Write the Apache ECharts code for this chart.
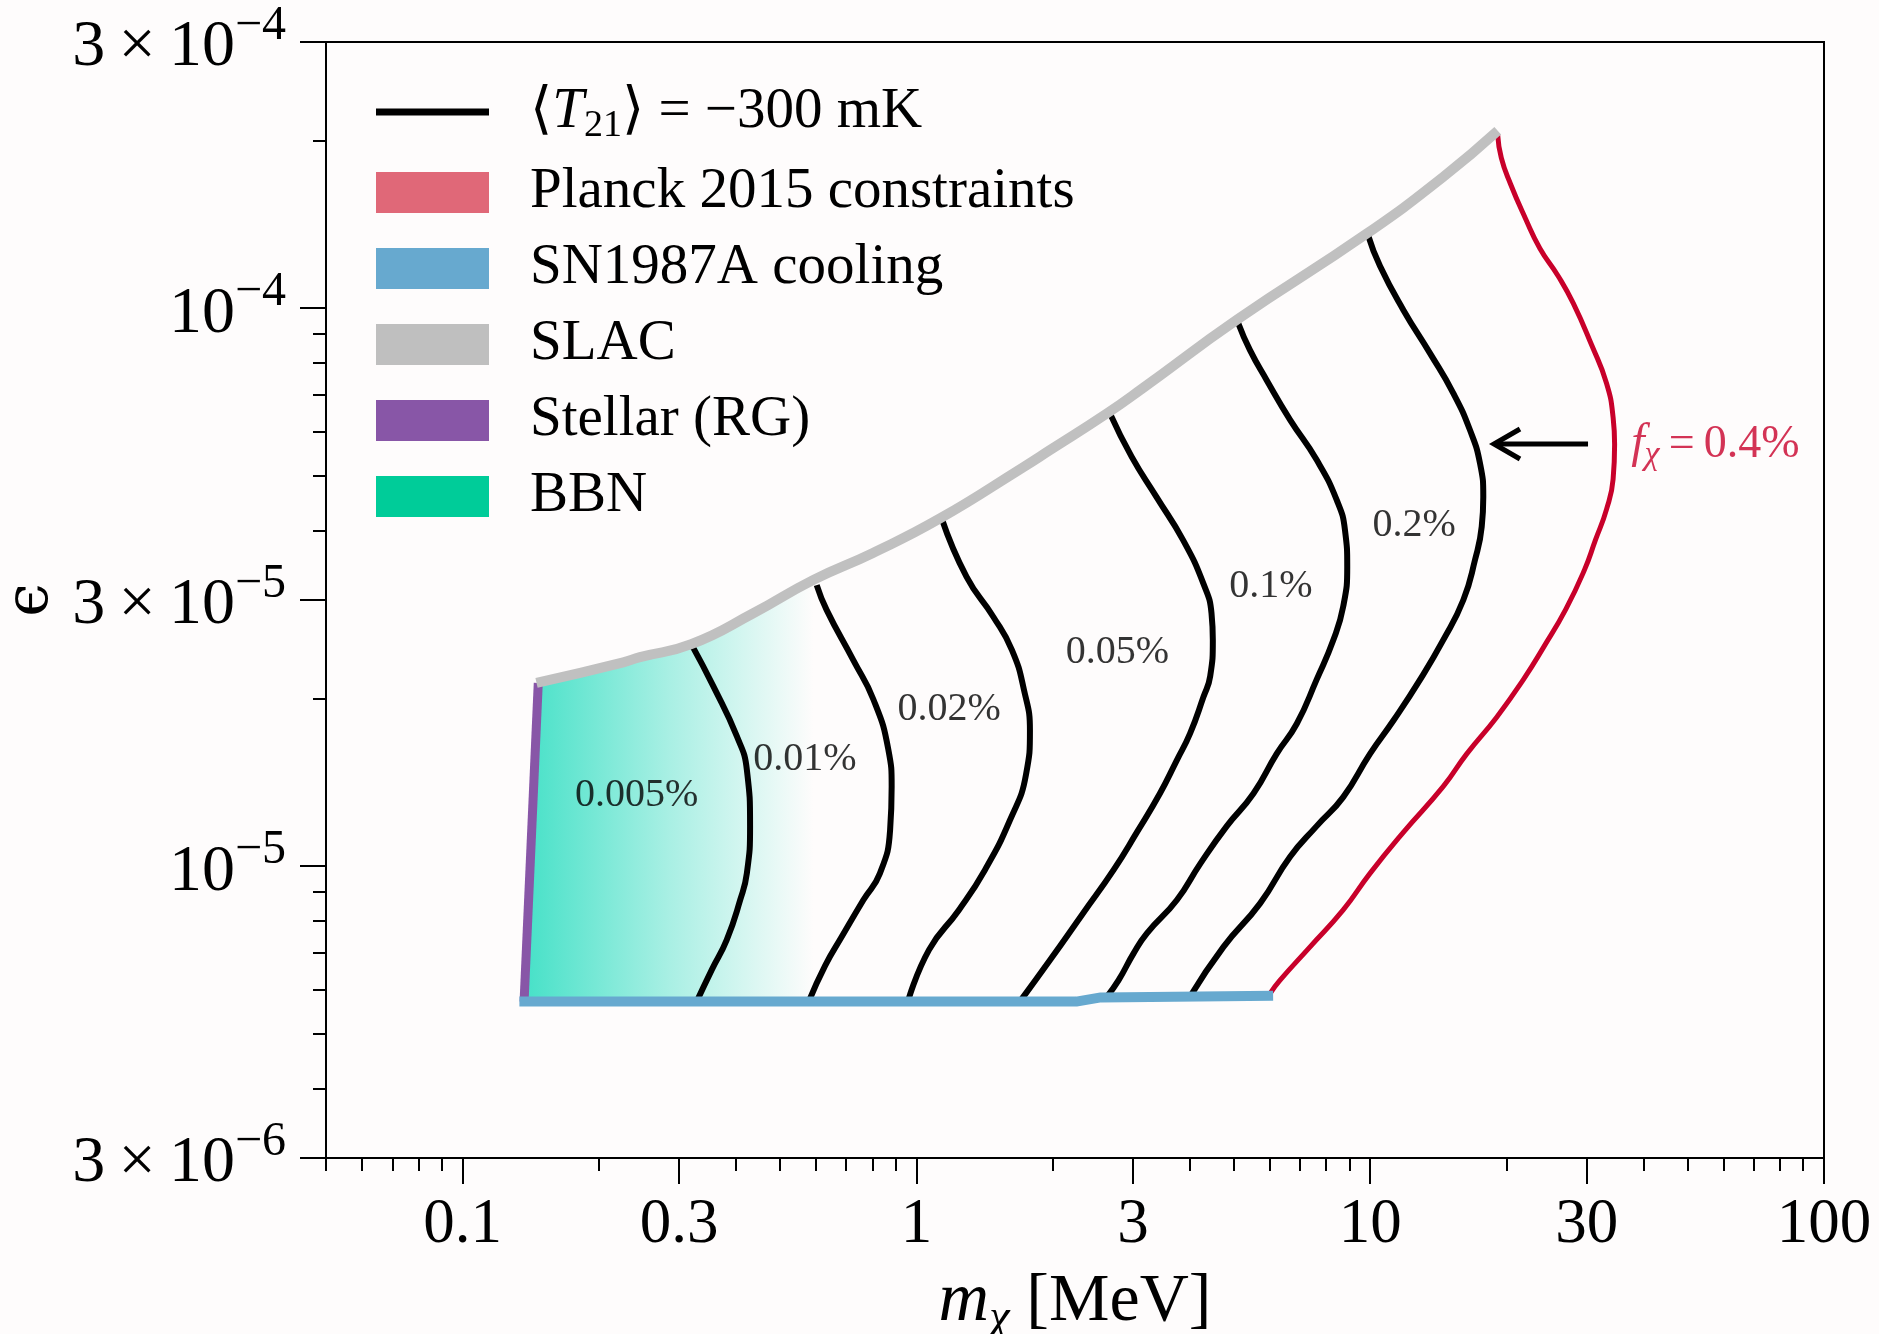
<!DOCTYPE html>
<html><head><meta charset="utf-8">
<script src="https://cdn.jsdelivr.net/npm/echarts@6/dist/echarts.min.js"></script>
<style>html,body{margin:0;padding:0;background:#fefcfc;}#c{width:1879px;height:1334px;}</style>
</head><body><div id="c"></div>
<script>
// ---------- data (m_chi in MeV, epsilon) ----------
const xRange = [0.05, 100];
const yRange = [3e-6, 3e-4];
const xMajorTicks = [0.1, 0.3, 1, 3, 10, 30, 100];
const xMajorLabels = ['0.1', '0.3', '1', '3', '10', '30', '100'];
const xMinorTicks = [0.05,0.06,0.07,0.08,0.09,0.2,0.4,0.5,0.6,0.7,0.8,0.9,2,4,5,6,7,8,9,20,40,50,60,70,80,90];
const yMajorTicks = [3e-6, 1e-5, 3e-5, 1e-4, 3e-4];
const yMajorMantissa = ['3\u2009×\u200910', '10', '3\u2009×\u200910', '10', '3\u2009×\u200910'];
const yMajorExponent = ['−6', '−5', '−5', '−4', '−4'];
const yMinorTicks = [4e-6,5e-6,6e-6,7e-6,8e-6,9e-6,2e-5,4e-5,5e-5,6e-5,7e-5,8e-5,9e-5,2e-4];

const slac = [[0.1455,2.13e-5],[0.226,2.32e-5],[0.246,2.37e-5],[0.319,2.50e-5],[0.437,2.84e-5],[0.593,3.26e-5],[0.80,3.64e-5],[1.127,4.20e-5],[1.72,5.19e-5],[1.97,5.57e-5],[2.63,6.48e-5],[3.16,7.20e-5],[5.08,9.53e-5],[9.82,1.36e-4],[14.49,1.72e-4],[19.1,2.08e-4]];
const stellarRG = [[0.1366,5.72e-6],[0.1468,2.13e-5]];
const sn1987a = [[0.1334,5.72e-6],[2.25,5.72e-6],[2.55,5.82e-6],[6.11,5.86e-6]];

const t21_0005 = [[0.320,2.49e-5],[0.357,2.10e-5],[0.402,1.71e-5],[0.423,1.49e-5],[0.430,1.18e-5],[0.423,9.71e-6],[0.409,8.70e-6],[0.382,7.38e-6],[0.354,6.52e-6],[0.328,5.72e-6]];
const t21_001 = [[0.603,3.19e-5],[0.634,2.88e-5],[0.726,2.34e-5],[0.804,1.99e-5],[0.867,1.62e-5],[0.882,1.39e-5],[0.875,1.16e-5],[0.831,9.71e-6],[0.764,8.70e-6],[0.685,7.48e-6],[0.629,6.63e-6],[0.579,5.72e-6]];
const t21_002 = [[1.137,4.20e-5],[1.29,3.30e-5],[1.477,2.80e-5],[1.624,2.44e-5],[1.726,2.07e-5],[1.779,1.75e-5],[1.744,1.46e-5],[1.608,1.21e-5],[1.416,9.85e-6],[1.241,8.35e-6],[1.066,7.08e-6],[0.958,5.72e-6]];
const t21_005 = [[2.67,6.48e-5],[2.98,5.42e-5],[3.38,4.59e-5],[3.87,3.84e-5],[4.29,3.21e-5],[4.47,2.84e-5],[4.50,2.54e-5],[4.44,2.19e-5],[4.29,2.01e-5],[4.01,1.73e-5],[3.75,1.55e-5],[3.44,1.35e-5],[3.06,1.15e-5],[2.72,9.85e-6],[2.33,8.24e-6],[1.97,6.79e-6],[1.69,5.72e-6]];
const t21_01 = [[5.12,9.40e-5],[5.43,8.42e-5],[5.91,7.44e-5],[6.66,6.31e-5],[7.62,5.35e-5],[8.44,4.53e-5],[8.80,4.00e-5],[8.90,3.44e-5],[8.72,2.92e-5],[8.29,2.54e-5],[7.62,2.16e-5],[6.89,1.80e-5],[6.22,1.59e-5],[5.53,1.35e-5],[4.83,1.18e-5],[4.22,1.01e-5],[3.75,8.70e-6],[3.22,7.58e-6],[3.01,6.98e-6],[2.79,6.25e-6],[2.63,5.84e-6]];
const t21_02 = [[9.90,1.35e-4],[10.51,1.19e-4],[11.83,9.93e-5],[13.55,8.30e-5],[15.25,7.04e-5],[16.59,6.05e-5],[17.46,5.27e-5],[17.75,4.59e-5],[17.61,4.06e-5],[17.02,3.54e-5],[16.04,3.00e-5],[14.47,2.54e-5],[12.88,2.16e-5],[11.28,1.83e-5],[9.99,1.59e-5],[8.72,1.33e-5],[7.62,1.18e-5],[6.66,1.04e-5],[5.72,8.58e-6],[4.75,7.17e-6],[4.01,5.84e-6]];
const planck04 = [[19.09,2.05e-4],[19.45,1.86e-4],[20.38,1.67e-4],[21.97,1.45e-4],[23.66,1.28e-4],[25.99,1.14e-4],[28.03,1.02e-4],[30.76,8.59e-5],[33.17,7.34e-5],[34.30,6.37e-5],[34.56,5.70e-5],[34.30,4.94e-5],[33.17,4.36e-5],[31.35,3.84e-5],[29.63,3.39e-5],[26.99,2.89e-5],[24.11,2.47e-5],[21.75,2.16e-5],[19.00,1.85e-5],[16.32,1.59e-5],[14.49,1.39e-5],[11.83,1.15e-5],[9.99,9.71e-6],[8.72,8.35e-6],[7.37,7.17e-6],[6.33,6.25e-6],[6.02,5.92e-6]];

const contourNames = ['0.005%','0.01%','0.02%','0.05%','0.1%','0.2%'];
const contourLabelPos = [[0.242,1.36e-5],[0.568,1.58e-5],[1.181,1.94e-5],[2.774,2.46e-5],[6.04,3.23e-5],[12.5,4.14e-5]];
const planckLabelPos = [37.5, 5.70e-5];
const arrowFrom = [30.2, 5.71e-5];
const arrowTo = [18.74, 5.71e-5];
const bbnFadeEdge = 0.6;

// ---------- helpers ----------
const FONT = '"Liberation Serif","DejaVu Serif",serif';
const L = Math.log10;
const lg = arr => arr.map(p => [L(p[0]), L(p[1])]);
const idxOf = (vals, v) => vals.findIndex(t => Math.abs(L(t) - v) < 1e-6);

const bbnPoly = [...stellarRG,
  ...slac.filter(p => p[0] > stellarRG[1][0] && p[0] <= bbnFadeEdge)];
bbnPoly.push([bbnPoly[bbnPoly.length - 1][0], sn1987a[0][1]]);

const chart = echarts.init(document.getElementById('c'), null, {renderer: 'canvas'});

function lineSeries(name, data, color, width, z, smooth) {
  return {type: 'line', name, data: lg(data), symbol: 'none', showSymbol: false, smooth: smooth,
    lineStyle: {color, width, cap: 'butt', join: 'round'}, itemStyle: {color}, z, silent: true, clip: true};
}

const axisCommon = {type: 'value', splitLine: {show: false}};

const option = {
  animation: false,
  backgroundColor: '#fefcfc',
  grid: {left: 326, right: 55, top: 42, bottom: 176, show: true, backgroundColor: '#fefcfc',
    borderColor: '#000', borderWidth: 2, outerBoundsMode: 'none', containLabel: false},
  xAxis: [
    Object.assign({}, axisCommon, {
      min: L(xRange[0]), max: L(xRange[1]), position: 'bottom',
      axisLine: {show: true, onZero: false, lineStyle: {color: '#000', width: 2}},
      axisTick: {show: true, customValues: xMajorTicks.map(L), length: 26, lineStyle: {color: '#000', width: 2}},
      axisLabel: {show: true, customValues: xMajorTicks.map(L), margin: 36, color: '#000',
        fontFamily: FONT, fontSize: 63,
        formatter: v => { const i = idxOf(xMajorTicks, v); return i >= 0 ? xMajorLabels[i] : ''; }},
      name: '{i|m}{s|χ}{n| [MeV]}', nameLocation: 'middle', nameGap: 94,
      nameTextStyle: {color: '#000', fontFamily: FONT, fontSize: 66, rich: {
        i: {fontFamily: FONT, fontStyle: 'italic', fontSize: 70, lineHeight: 80, color: '#000'},
        s: {fontFamily: FONT, fontStyle: 'italic', fontSize: 46, lineHeight: 46, padding: [34, 0, 0, 0], color: '#000'},
        n: {fontFamily: FONT, fontSize: 68, lineHeight: 80, color: '#000'}}}
    }),
    Object.assign({}, axisCommon, {
      min: L(xRange[0]), max: L(xRange[1]), position: 'bottom',
      axisLine: {show: false, onZero: false},
      axisTick: {show: true, customValues: xMinorTicks.map(L), length: 13, lineStyle: {color: '#000', width: 2}},
      axisLabel: {show: false}
    })
  ],
  yAxis: [
    Object.assign({}, axisCommon, {
      min: L(yRange[0]), max: L(yRange[1]), position: 'left',
      axisLine: {show: true, onZero: false, lineStyle: {color: '#000', width: 2}},
      axisTick: {show: true, customValues: yMajorTicks.map(L), length: 26, lineStyle: {color: '#000', width: 2}},
      axisLabel: {show: true, customValues: yMajorTicks.map(L), margin: 40, color: '#000', padding: [12, 0, 0, 0],
        formatter: v => { const i = idxOf(yMajorTicks, v); return i >= 0 ? '{n|' + yMajorMantissa[i] + '}{s|' + yMajorExponent[i] + '}' : ''; },
        rich: {
          n: {fontFamily: FONT, fontSize: 66, lineHeight: 92, color: '#000'},
          s: {fontFamily: FONT, fontSize: 48, lineHeight: 48, verticalAlign: 'top', color: '#000'}}},
      name: 'ϵ', nameLocation: 'middle', nameGap: 258,
      nameTextStyle: {color: '#000', fontFamily: '"DejaVu Serif",serif', fontSize: 60}
    }),
    Object.assign({}, axisCommon, {
      min: L(yRange[0]), max: L(yRange[1]), position: 'left',
      axisLine: {show: false, onZero: false},
      axisTick: {show: true, customValues: yMinorTicks.map(L), length: 13, lineStyle: {color: '#000', width: 2}},
      axisLabel: {show: false}
    })
  ],
  legend: {
    orient: 'vertical', left: 371, top: 74, itemWidth: 113, itemHeight: 41, itemGap: 19,
    selectedMode: false,
    itemStyle: {borderWidth: 0},
    textStyle: {fontFamily: FONT, fontSize: 57, lineHeight: 57, color: '#000', padding: [0, 0, 0, 36],
      rich: {
        n: {fontFamily: FONT, fontSize: 57, lineHeight: 57, color: '#000'},
        i: {fontFamily: FONT, fontStyle: 'italic', fontSize: 57, lineHeight: 57, color: '#000'},
        s: {fontFamily: FONT, fontSize: 38, lineHeight: 29, padding: [28, 0, 0, 0], color: '#000'}}},
    formatter: name => name === 'T21' ? '{n|⟨}{i|T}{s|21}{n|⟩ = −300 mK}' : name,
    data: [
      {name: 'T21', icon: 'path://M0,0L0,0M113,41L113,41M0,17H113V24H0Z', itemStyle: {color: '#000', borderWidth: 0}},
      {name: 'Planck 2015 constraints', icon: 'rect', itemStyle: {color: '#e06878', borderWidth: 0}},
      {name: 'SN1987A cooling', icon: 'rect', itemStyle: {color: '#67a9cf', borderWidth: 0}},
      {name: 'SLAC', icon: 'rect', itemStyle: {color: '#bfbfbf', borderWidth: 0}},
      {name: 'Stellar (RG)', icon: 'rect', itemStyle: {color: '#8856a7', borderWidth: 0}},
      {name: 'BBN', icon: 'rect', itemStyle: {color: '#00cc99', borderWidth: 0}}
    ]
  },
  series: [
    {type: 'custom', name: 'BBN', coordinateSystem: 'cartesian2d', z: 1, silent: true, clip: true,
      itemStyle: {color: '#00cc99'},
      data: [lg(bbnPoly)[0]],
      renderItem: (params, api) => ({
        type: 'polygon',
        shape: {points: lg(bbnPoly).map(p => api.coord(p))},
        style: {fill: {type: 'linear', x: 0, y: 0, x2: 1, y2: 0, colorStops: [
          {offset: 0, color: 'rgba(64,224,198,0.97)'},
          {offset: 0.5, color: 'rgba(64,224,198,0.45)'},
          {offset: 1, color: 'rgba(64,224,198,0)'}]}}
      })},
    lineSeries('T21', t21_0005, '#000', 6, 3, 0.5),
    lineSeries('T21', t21_001, '#000', 6, 3, 0.5),
    lineSeries('T21', t21_002, '#000', 6, 3, 0.5),
    lineSeries('T21', t21_005, '#000', 6, 3, 0.5),
    lineSeries('T21', t21_01, '#000', 6, 3, 0.5),
    lineSeries('T21', t21_02, '#000', 6, 3, 0.5),
    lineSeries('Planck 2015 constraints', planck04, '#c8002a', 5, 3, 0.5),
    lineSeries('Stellar (RG)', stellarRG, '#8856a7', 9, 4, false),
    lineSeries('SLAC', slac, '#c0c0c0', 10, 4, 0.5),
    lineSeries('SN1987A cooling', sn1987a, '#67a9cf', 10, 4, false),
    {type: 'scatter', name: 'labels', z: 6, silent: true, symbolSize: 1,
      itemStyle: {color: 'rgba(0,0,0,0)'},
      data: contourNames.map((n, i) => ({name: n, value: [L(contourLabelPos[i][0]), L(contourLabelPos[i][1])]})),
      label: {show: true, position: 'inside', offset: [0, 4], formatter: p => p.name, fontFamily: FONT, fontSize: 40, color: '#000'}},
    {type: 'scatter', name: 'planckLabel', z: 6, silent: true, symbolSize: 1,
      itemStyle: {color: 'rgba(0,0,0,0)'},
      data: [{name: 'f', value: [L(planckLabelPos[0]), L(planckLabelPos[1])]}],
      label: {show: true, position: 'right', distance: 0, color: '#c8002a',
        formatter: () => '{i|f}{s|χ}{n|\u2009=\u20090.4%}',
        rich: {
          i: {fontFamily: FONT, fontStyle: 'italic', fontSize: 48, lineHeight: 54, color: '#c8002a'},
          s: {fontFamily: FONT, fontStyle: 'italic', fontSize: 34, lineHeight: 32, padding: [22, 0, 0, 0], color: '#c8002a'},
          n: {fontFamily: FONT, fontSize: 46, lineHeight: 54, color: '#c8002a'}}}},
    {type: 'custom', name: 'arrow', coordinateSystem: 'cartesian2d', z: 6, silent: true,
      encode: {x: [0, 2], y: [1, 3]},
      data: [[L(arrowFrom[0]), L(arrowFrom[1]), L(arrowTo[0]), L(arrowTo[1])]],
      renderItem: (params, api) => {
        const a = api.coord([api.value(0), api.value(1)]);
        const b = api.coord([api.value(2), api.value(3)]);
        return {type: 'group', children: [
          {type: 'line', shape: {x1: a[0], y1: a[1], x2: b[0] + 2, y2: b[1]}, style: {stroke: '#000', lineWidth: 5}},
          {type: 'polyline', shape: {points: [[b[0] + 26, b[1] - 15], [b[0], b[1]], [b[0] + 26, b[1] + 15]]},
            style: {stroke: '#000', lineWidth: 5, fill: null}}
        ]};
      }}
  ]
};
chart.setOption(option);
</script>
</body></html>
